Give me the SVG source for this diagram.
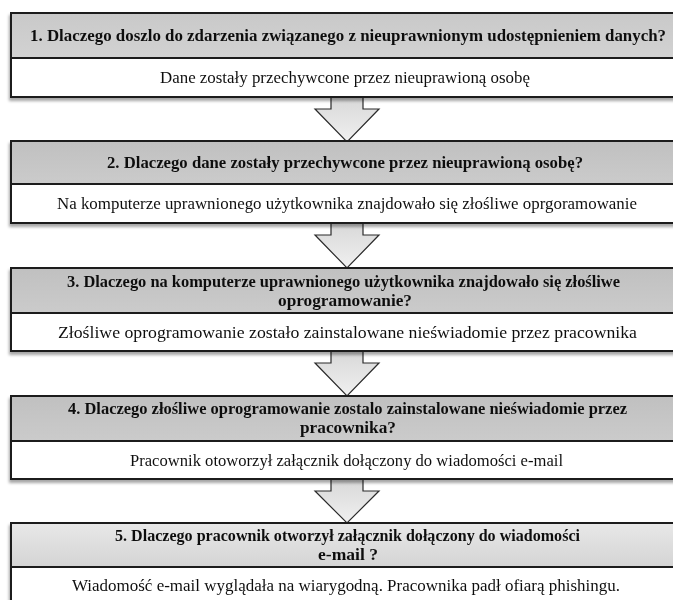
<svg xmlns="http://www.w3.org/2000/svg" width="673" height="600" viewBox="0 0 673 600">
<style>
.hdr{stroke:#1e1e1e;stroke-width:2}
.body{fill:#ffffff;stroke:#1e1e1e;stroke-width:2}
.t{font-family:"Liberation Serif","Times New Roman",serif;font-size:16.5px;font-weight:bold;fill:#111;text-anchor:middle}
.b{font-family:"Liberation Serif","Times New Roman",serif;font-size:16.5px;fill:#111;text-anchor:middle}
.arr{fill:url(#ga);stroke:#2a2a2a;stroke-width:1.2;stroke-linejoin:miter}
</style>
<defs>
<linearGradient id="g1" x1="0" y1="0" x2="0" y2="1"><stop offset="0" stop-color="#c9c9c9"/><stop offset="1" stop-color="#d2d2d2"/></linearGradient>
<linearGradient id="g2" x1="0" y1="0" x2="0" y2="1"><stop offset="0" stop-color="#c0c0c0"/><stop offset="1" stop-color="#cbcbcb"/></linearGradient>
<linearGradient id="g5" x1="0" y1="0" x2="0" y2="1"><stop offset="0" stop-color="#e8e8e8"/><stop offset="1" stop-color="#d4d4d4"/></linearGradient>
<linearGradient id="ga" x1="0" y1="0" x2="0" y2="1"><stop offset="0" stop-color="#d8d8d8"/><stop offset="1" stop-color="#f0f0f0"/></linearGradient>
<filter id="sh" x="-5%" y="-20%" width="110%" height="140%"><feDropShadow dx="-1" dy="3" stdDeviation="1.5" flood-color="#000" flood-opacity="0.35"/></filter>
</defs>

<g id="connectors">
<path class="arr" d="M331,97 L363,97 L363,109 L379,109 L347,142 L315,109 L331,109 Z"/>
<path class="arr" d="M331,223 L363,223 L363,235 L379,235 L347,268 L315,235 L331,235 Z"/>
<path class="arr" d="M331,351 L363,351 L363,363 L379,363 L347,396 L315,363 L331,363 Z"/>
<path class="arr" d="M331,479 L363,479 L363,491 L379,491 L347,523 L315,491 L331,491 Z"/>
</g>

<g id="node1" filter="url(#sh)">
<rect class="hdr" x="11" y="13" width="680" height="45" fill="url(#g1)"/>
<rect class="body" x="11" y="58" width="680" height="39"/>
<text class="t" x="348" y="41" textLength="636" lengthAdjust="spacingAndGlyphs">1. Dlaczego doszlo do zdarzenia związanego z nieuprawnionym udostępnieniem danych?</text>
<text class="b" x="345" y="83" textLength="370" lengthAdjust="spacingAndGlyphs">Dane zostały przechywcone przez nieuprawioną osobę</text>
</g>

<g id="node2" filter="url(#sh)">
<rect class="hdr" x="11" y="141" width="680" height="43" fill="url(#g2)"/>
<rect class="body" x="11" y="184" width="680" height="39"/>
<text class="t" x="345" y="168" textLength="476" lengthAdjust="spacingAndGlyphs">2. Dlaczego dane zostały przechywcone przez nieuprawioną osobę?</text>
<text class="b" x="347" y="209" textLength="580" lengthAdjust="spacingAndGlyphs">Na komputerze uprawnionego użytkownika znajdowało się złośliwe oprgoramowanie</text>
</g>

<g id="node3" filter="url(#sh)">
<rect class="hdr" x="11" y="268" width="680" height="45" fill="url(#g2)"/>
<rect class="body" x="11" y="313" width="680" height="38"/>
<text class="t" x="343.5" y="287" textLength="553" lengthAdjust="spacingAndGlyphs">3. Dlaczego na komputerze uprawnionego użytkownika znajdowało się  złośliwe</text>
<text class="t" x="345" y="306" textLength="134" lengthAdjust="spacingAndGlyphs">oprogramowanie?</text>
<text class="b" x="347.5" y="338" textLength="579" lengthAdjust="spacingAndGlyphs">Złośliwe oprogramowanie zostało  zainstalowane nieświadomie przez pracownika</text>
</g>

<g id="node4" filter="url(#sh)">
<rect class="hdr" x="11" y="396" width="680" height="45" fill="url(#g2)"/>
<rect class="body" x="11" y="441" width="680" height="38"/>
<text class="t" x="347.5" y="414" textLength="559" lengthAdjust="spacingAndGlyphs">4. Dlaczego złośliwe oprogramowanie zostalo zainstalowane nieświadomie przez</text>
<text class="t" x="348" y="433" textLength="96" lengthAdjust="spacingAndGlyphs">pracownika?</text>
<text class="b" x="346.5" y="466" textLength="433" lengthAdjust="spacingAndGlyphs">Pracownik otoworzył załącznik dołączony do wiadomości e-mail</text>
</g>

<g id="node5" filter="url(#sh)">
<rect class="hdr" x="11" y="523" width="680" height="44" fill="url(#g5)"/>
<rect class="body" x="11" y="567" width="680" height="45"/>
<text class="t" x="347.5" y="541" textLength="465" lengthAdjust="spacingAndGlyphs">5. Dlaczego pracownik otworzył załącznik dołączony do wiadomości</text>
<text class="t" x="348" y="560" textLength="60" lengthAdjust="spacingAndGlyphs">e-mail ?</text>
<text class="b" x="346" y="591" textLength="548" lengthAdjust="spacingAndGlyphs">Wiadomość e-mail wyglądała na wiarygodną.  Pracownika padł ofiarą phishingu.</text>
</g>
</svg>
